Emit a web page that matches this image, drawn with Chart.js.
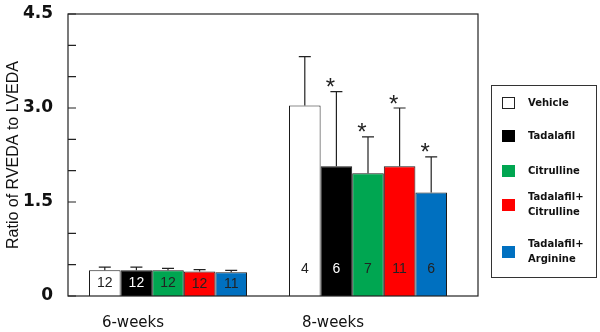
<!DOCTYPE html>
<html>
<head>
<meta charset="utf-8">
<script src="https://cdn.jsdelivr.net/npm/chart.js@4/dist/chart.umd.min.js"></script>
<style>
html, body { margin: 0; padding: 0; background: #fff; }
</style>
</head>
<body>
<canvas id="chartRatio" width="600" height="332"></canvas>
<script>
// groups on the x axis and the five treatments
const groups = ['6-weeks', '8-weeks'];
const treatments = ['Vehicle', 'Tadalafil', 'Citrulline', 'Tadalafil+ Citrulline', 'Tadalafil+ Arginine'];
const legendLines = [['Vehicle'], ['Tadalafil'], ['Citrulline'], ['Tadalafil+', 'Citrulline'], ['Tadalafil+', 'Arginine']];

// mean ratio, SEM and n per treatment
const mean6w = [0.41, 0.41, 0.41, 0.39, 0.38];
const sem6w = [0.05, 0.05, 0.03, 0.03, 0.03];
const n6w = [12, 12, 12, 12, 11];

const mean8w = [3.04, 2.07, 1.96, 2.07, 1.65];
const sem8w = [0.78, 1.19, 0.58, 0.93, 0.57];
const n8w = [4, 6, 7, 11, 6];

// * = significant vs vehicle
const signif6w = [false, false, false, false, false];
const signif8w = [false, true, true, true, true];

const yTicks = [0, 1.5, 3.0, 4.5];

const colours = ['#ffffff', '#000000', '#00a651', '#ff0000', '#0070c0'];

const extras = {
    id: 'extras',
    afterDatasetsDraw(chart) {
        const c = chart.ctx;
        const a = chart.chartArea;
        const yScale = chart.scales.y;
        const frameRight = a.right + 10;
        c.save();

        // frame
        c.strokeStyle = '#222';
        c.lineWidth = 1.2;
        c.strokeRect(a.left, a.top, frameRight - a.left, a.bottom - a.top);

        // inward ticks every 0.5
        c.beginPath();
        yScale.ticks.forEach(t => {
            const y = yScale.getPixelForValue(t.value);
            c.moveTo(a.left, y);
            c.lineTo(a.left + 8, y);
        });
        c.stroke();

        // error bars, n labels, asterisks
        chart.data.datasets.forEach((ds, i) => {
            const meta = chart.getDatasetMeta(i);
            meta.data.forEach((el, j) => {
                const top = yScale.getPixelForValue(ds.data[j] + ds.sem[j]);
                c.strokeStyle = '#222';
                c.lineWidth = 1.2;
                c.beginPath();
                c.moveTo(el.x, el.y);
                c.lineTo(el.x, top);
                c.moveTo(el.x - 6, top);
                c.lineTo(el.x + 6, top);
                c.stroke();

                c.fillStyle = i === 1 ? '#ffffff' : '#222';
                c.font = '14px "Liberation Sans", Arial, sans-serif';
                c.textAlign = 'center';
                c.textBaseline = 'middle';
                const ny = Math.max((el.y + el.base) / 2, el.base - 27);
                c.fillText(String(ds.n[j]), el.x, ny);

                if (ds.signif[j]) {
                    c.fillStyle = '#222';
                    c.font = '24px "Liberation Sans", Arial, sans-serif';
                    c.textBaseline = 'alphabetic';
                    c.fillText('*', el.x - 6, top - 10 + 13.5);
                }
            });
        });

        // legend box
        const lx = 491.5, ly = 85.5, lw = 105, lh = 192;
        c.strokeStyle = '#333';
        c.lineWidth = 1;
        c.strokeRect(lx, ly, lw, lh);
        const centres = [103, 136, 171, 205, 252];
        c.font = 'bold 10px "DejaVu Sans", sans-serif';
        c.textAlign = 'left';
        c.textBaseline = 'middle';
        legendLines.forEach((lines, i) => {
            const cy = centres[i];
            c.fillStyle = colours[i];
            c.fillRect(502, cy - 6, 13, 12);
            c.strokeStyle = i === 0 ? '#222' : colours[i];
            c.strokeRect(502.5, cy - 5.5, 12, 11);
            c.fillStyle = '#111';
            lines.forEach((ln, k) => {
                const off = (k - (lines.length - 1) / 2) * 15;
                c.fillText(ln, 528, cy + off);
            });
        });
        c.restore();
    }
};

const ctxRatio = document.getElementById('chartRatio');
const chartRatio = new Chart(ctxRatio, {
    type: 'bar',
    data: {
        labels: groups,
        datasets: treatments.map((t, i) => ({
            label: t,
            data: [mean6w[i], mean8w[i]],
            sem: [sem6w[i], sem8w[i]],
            n: [n6w[i], n8w[i]],
            signif: [signif6w[i], signif8w[i]],
            backgroundColor: colours[i],
            borderColor: '#1a1a1a',
            borderWidth: 1,
            categoryPercentage: 0.79,
            barPercentage: 1.0
        }))
    },
    options: {
        responsive: false,
        animation: false,
        devicePixelRatio: 1,
        layout: { padding: { top: 14, right: 132, left: 0, bottom: 0 } },
        plugins: {
            legend: { display: false },
            tooltip: { enabled: false }
        },
        scales: {
            x: {
                grid: { display: false, drawTicks: false },
                border: { display: false },
                ticks: {
                    color: '#111',
                    font: { family: '"DejaVu Sans", sans-serif', size: 15 },
                    labelOffset: -35,
                    padding: 18
                },
                afterFit(scale) { scale.height = 36; scale.paddingLeft = 0; scale.paddingRight = 0; }
            },
            y: {
                min: 0,
                max: 4.5,
                grid: { display: false, drawTicks: false },
                border: { display: false },
                ticks: {
                    stepSize: 0.5,
                    color: '#111',
                    font: { family: '"DejaVu Sans", sans-serif', size: 17, weight: 'bold' },
                    padding: 15,
                    callback: v => {
                        const hit = yTicks.find(t => Math.abs(t - v) < 1e-9);
                        if (hit === undefined) return '';
                        return hit === 0 ? '0' : hit.toFixed(1);
                    }
                },
                title: {
                    display: true,
                    text: 'Ratio of RVEDA to LVEDA',
                    color: '#111',
                    font: { family: '"Liberation Sans", Arial, sans-serif', size: 16 }
                },
                afterFit(scale) { scale.width = 68; scale.paddingTop = 0; scale.paddingBottom = 0; }
            }
        }
    },
    plugins: [extras]
});
</script>
</body>
</html>
